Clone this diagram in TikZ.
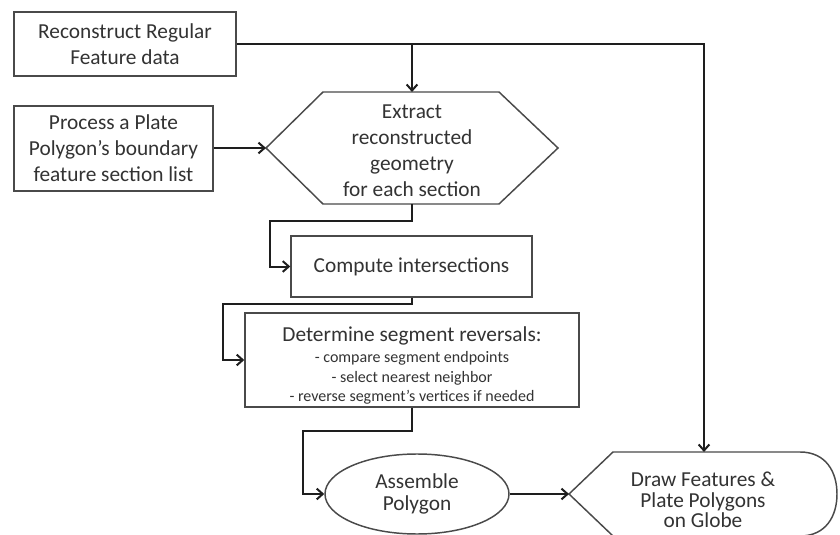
\documentclass[tikz,border=0pt]{standalone}
\usepackage{fontspec}
\setmainfont{Carlito}
\usetikzlibrary{arrows.meta,shapes.geometric}
\definecolor{txt}{HTML}{333333}
\definecolor{bord}{HTML}{4A4A4A}
\definecolor{conn}{HTML}{1E1E1E}
\begin{document}
\begin{tikzpicture}[x=0.75pt,y=-0.75pt,
  box/.style={draw=bord, line width=1.1pt, text=txt, align=center, inner sep=0pt,
    font=\fontsize{16}{19.5}\selectfont},
  label/.style={text=txt, align=center, inner sep=0pt, font=\fontsize{16}{19.5}\selectfont},
  smalllabel/.style={text=txt, align=center, inner sep=0pt, font=\fontsize{12}{14.6}\selectfont},
  outline/.style={draw=bord, line width=1.1pt, line join=miter},
  conn/.style={draw=conn, line width=1.5pt, -{Straight Barb[length=4.5pt,width=8pt]}}]
\fill[white] (0,0) rectangle (840,535);
\useasboundingbox (0,0) rectangle (840,535);

% boxes
\node[box, minimum width=166.5pt, minimum height=48pt] (rec) at (125,44) {Reconstruct Regular\\Feature data};
\node[box, minimum width=149.25pt, minimum height=63.75pt] (proc) at (113.5,148.5) {Process a Plate\\Polygon’s boundary\\feature section list};

% hexagon
\coordinate (extW) at (266,148);
\coordinate (extN) at (412,92);
\coordinate (extS) at (412,204);
\draw[outline] (extW) -- (323,92) -- (499,92) -- (558,148) -- (499,204) -- (323,204) -- cycle;
\node[label] (ext) at (412,151) {Extract\\reconstructed\\geometry\\for each section};

\node[box, minimum width=180.75pt, minimum height=45.75pt] (cmp) at (411.5,266.5) {Compute intersections};

\node[box, minimum width=250.5pt, minimum height=70.5pt] (det) at (412,360) {};
\node[label] (dethead) at (412,336) {Determine segment reversals:};
\node[smalllabel] (detlist) at (412,378) {- compare segment endpoints\\- select nearest neighbor\\- reverse segment’s vertices if needed};

\node[ellipse, draw=bord, line width=1.1pt, minimum width=138pt, minimum height=60pt, inner sep=0pt,
  align=center, text=txt, font=\fontsize{16}{16.5}\selectfont] (asm) at (417,494) {Assemble\\Polygon};

% display shape
\coordinate (drwW) at (569,494);
\coordinate (drwN) at (704,452);
\draw[outline] (drwW) -- (613,452) -- (800,452) .. controls (826,452) and (837,472) .. (837,494)
  .. controls (837,516) and (826,536) .. (800,536) -- (613,536) -- cycle;
\node[label, font=\fontsize{16}{15.5}\selectfont] (drw) at (703,500) {Draw Features \&\\Plate Polygons\\on Globe};

% connectors
\draw[conn] (rec.east) -- (rec.east -| drwN) -- (drwN);
\draw[conn] (rec.east -| extN) -- (extN);
\draw[conn] (proc.east |- extW) -- (extW);
\coordinate (c1) at (270,221);
\draw[conn] (extS) |- (c1) |- (cmp.west);
\coordinate (c2) at (223,304);
\draw[conn] (cmp.south) |- (c2) |- (det.west);
\coordinate (c3) at (303,431);
\draw[conn] (det.south) |- (c3) |- (asm.west);
\draw[conn] (asm.east) -- (drwW);
\end{tikzpicture}
\end{document}
